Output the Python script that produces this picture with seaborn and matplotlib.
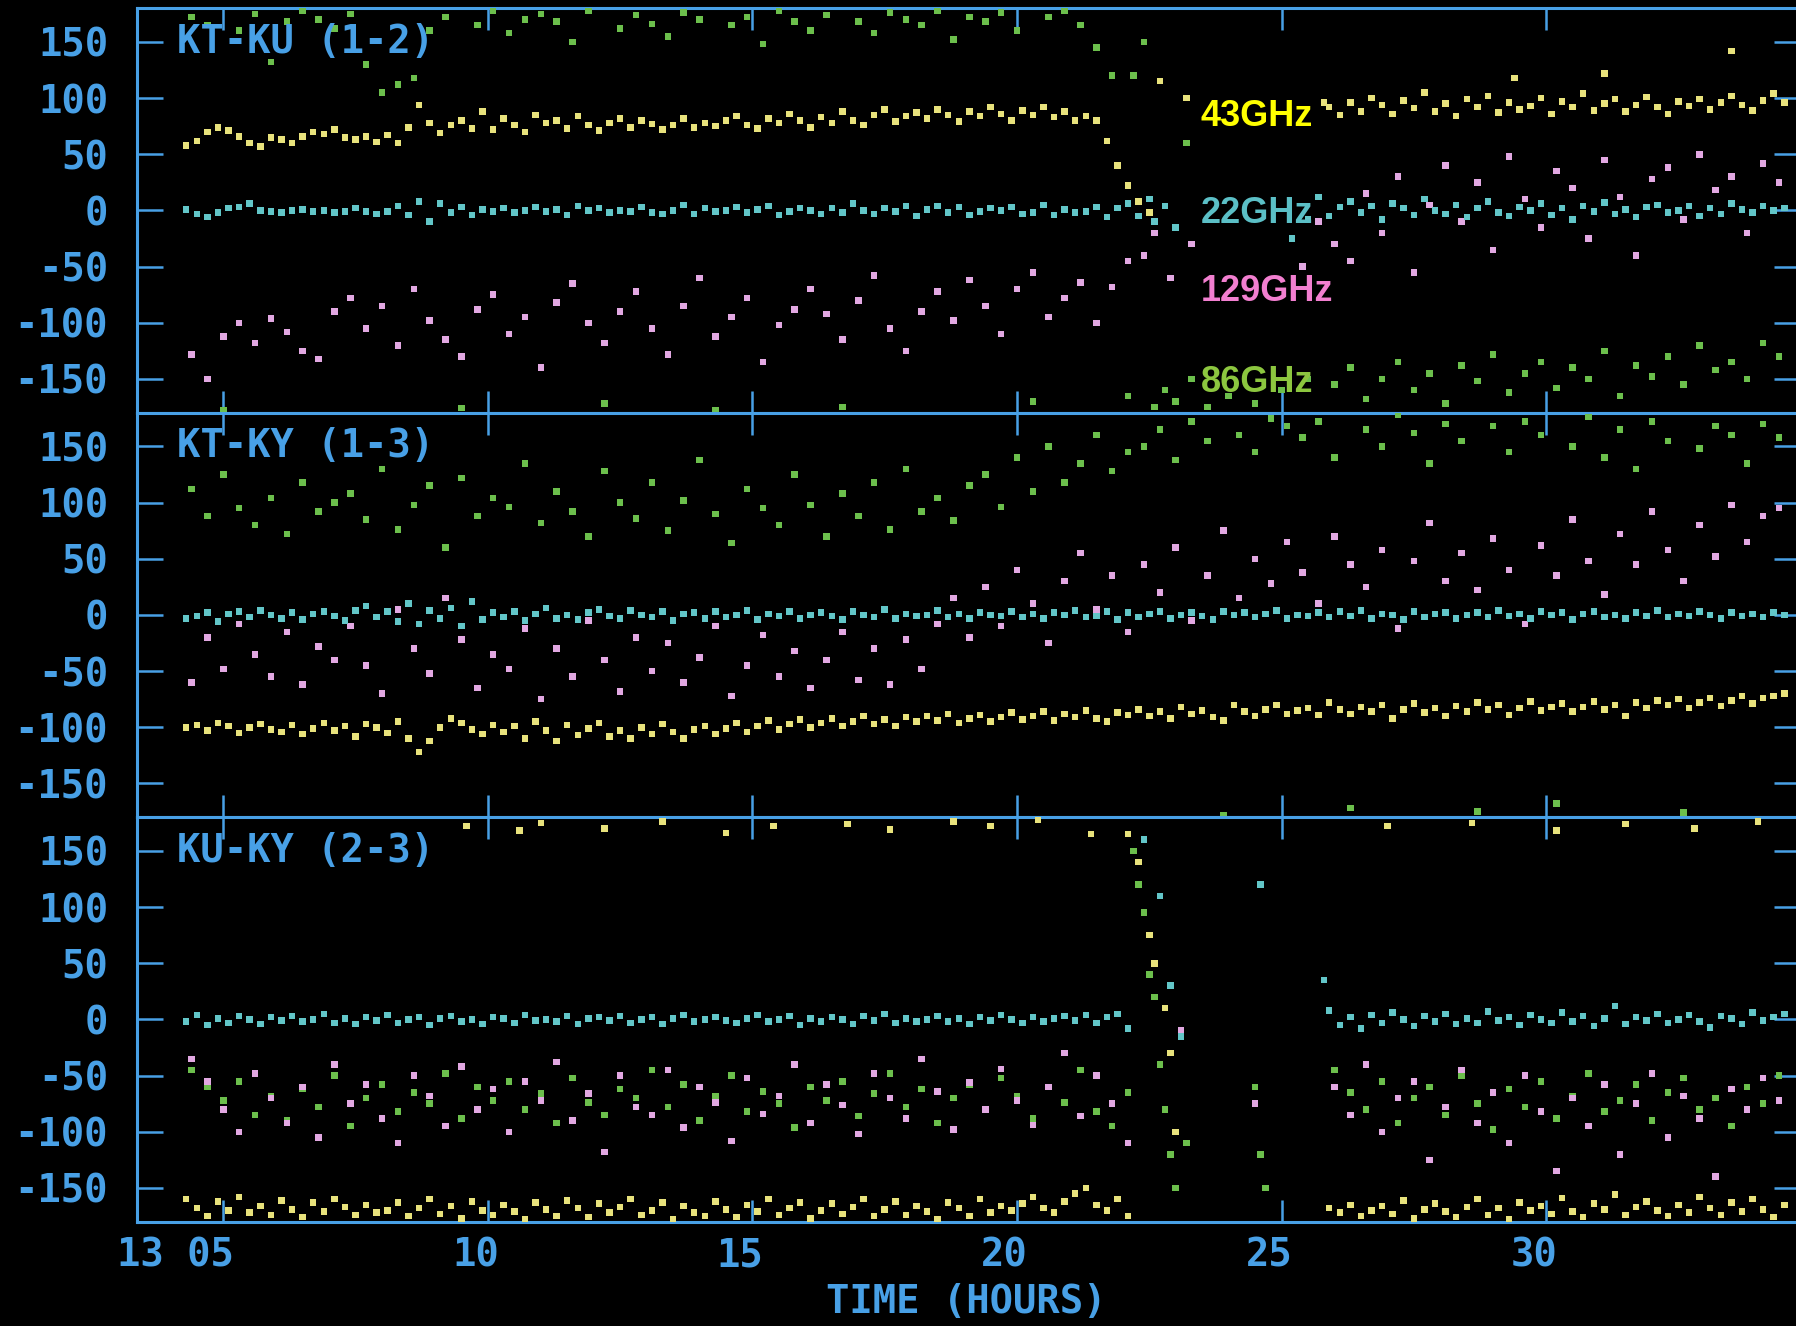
import numpy as np
import pandas as pd
import matplotlib
matplotlib.use("Agg")
import matplotlib.pyplot as plt
import matplotlib.transforms as mtransforms
import seaborn as sns

# ---------------- observation times (hours) ----------------
T_A2 = [4.3, 4.5, 4.7, 4.9, 5.1, 5.3, 5.5, 5.7, 5.9, 6.1,
        6.3, 6.5, 6.7, 6.9, 7.1, 7.3, 7.5, 7.7, 7.9, 8.1,
        8.3, 8.5, 8.7, 8.9, 9.1, 9.3, 9.5, 9.7, 9.9, 10.1,
        10.3, 10.5, 10.7, 10.9, 11.1, 11.3, 11.5, 11.7, 11.9, 12.1,
        12.3, 12.5, 12.7, 12.9, 13.1, 13.3, 13.5, 13.7, 13.9, 14.1,
        14.3, 14.5, 14.7, 14.9, 15.1, 15.3, 15.5, 15.7, 15.9, 16.1,
        16.3, 16.5, 16.7, 16.9, 17.1, 17.3, 17.5, 17.7, 17.9, 18.1,
        18.3, 18.5, 18.7, 18.9, 19.1, 19.3, 19.5, 19.7, 19.9, 20.1,
        20.3, 20.5, 20.7, 20.9, 21.1, 21.3, 21.5, 21.7, 21.9, 22.1]
T_M2 = [22.3, 22.5, 22.7, 22.9, 23.1, 23.3, 23.5, 23.7, 23.9, 24.1,
        24.3, 24.5, 24.7, 24.9, 25.1, 25.3, 25.5, 25.7]
T_B2 = [25.9, 26.1, 26.3, 26.5, 26.7, 26.9, 27.1, 27.3, 27.5, 27.7,
        27.9, 28.1, 28.3, 28.5, 28.7, 28.9, 29.1, 29.3, 29.5, 29.7,
        29.9, 30.1, 30.3, 30.5, 30.7, 30.9, 31.1, 31.3, 31.5, 31.7,
        31.9, 32.1, 32.3, 32.5, 32.7, 32.9, 33.1, 33.3, 33.5, 33.7,
        33.9, 34.1, 34.3, 34.5]
T_A3 = [4.4, 4.7, 5.0, 5.3, 5.6, 5.9, 6.2, 6.5, 6.8, 7.1,
        7.4, 7.7, 8.0, 8.3, 8.6, 8.9, 9.2, 9.5, 9.8, 10.1,
        10.4, 10.7, 11.0, 11.3, 11.6, 11.9, 12.2, 12.5, 12.8, 13.1,
        13.4, 13.7, 14.0, 14.3, 14.6, 14.9, 15.2, 15.5, 15.8, 16.1,
        16.4, 16.7, 17.0, 17.3, 17.6, 17.9, 18.2, 18.5, 18.8, 19.1,
        19.4, 19.7, 20.0, 20.3, 20.6, 20.9, 21.2, 21.5, 21.8, 22.1]
T_M3 = [22.4, 22.7, 23.0, 23.3, 23.6, 23.9, 24.2, 24.5, 24.8, 25.1]
T_B3 = [25.4, 25.7, 26.0, 26.3, 26.6, 26.9, 27.2, 27.5, 27.8, 28.1,
        28.4, 28.7, 29.0, 29.3, 29.6, 29.9, 30.2, 30.5, 30.8, 31.1,
        31.4, 31.7, 32.0, 32.3, 32.6, 32.9, 33.2, 33.5, 33.8, 34.1,
        34.4]

# ---------------- KT-KU (1-2) phases (deg) ----------------
p1_22_a = [1, -3, -6, -2, 2, 3, 6, 0, -1, -2,
           0, 1, -1, 0, -2, -1, 2, -1, -3, -1,
           4, -4, 8, -10, 6, -2, 3, -4, 1, -1,
           2, -2, 0, 3, -1, 1, -4, 4, 0, 2,
           -2, 0, -1, 3, -2, -3, 0, 5, -3, 2,
           -1, 0, 3, -2, 1, 4, -4, -1, 2, 0,
           -3, 2, -2, 6, 0, -3, 2, -1, 4, -5,
           1, 4, -2, 3, -4, -1, 2, 0, 3, -3,
           -2, 5, -4, 1, -2, -1, 3, -6, 2, 6]
p1_22_b = [-5, 3, 8, -2, 4, -8, 6, 2, -4, 10,
           0, -3, 5, -6, 2, 8, -2, -5, 3, 0,
           6, -4, 2, -8, 4, -1, 7, -3, 1, -6,
           3, 5, -2, 0, 4, -5, 2, -3, 6, 1,
           -2, 4, 0, 2]
p1_22_xt = [22.3, 22.5, 22.6, 22.8, 23.0, 25.2, 25.5, 25.7]
p1_22_xv = [-5, 10, -10, 4, -15, -25, -8, 12]

p1_43_a = [58, 62, 70, 74, 71, 66, 60, 57, 65, 63,
           60, 66, 70, 68, 72, 65, 63, 66, 61, 67,
           60, 74, 94, 78, 69, 76, 80, 73, 88, 72,
           82, 76, 70, 85, 78, 80, 73, 84, 76, 71,
           78, 82, 74, 80, 77, 72, 76, 82, 74, 78,
           75, 80, 84, 76, 73, 82, 78, 86, 80, 74,
           83, 78, 88, 80, 76, 85, 90, 79, 84, 87,
           82, 90, 85, 79, 88, 84, 92, 86, 80, 89,
           85, 92, 83, 88, 80, 84, 80, 62, 40, 22]
p1_43_b = [92, 85, 96, 88, 100, 94, 86, 98, 91, 105,
           88, 95, 84, 99, 92, 102, 87, 96, 90, 93,
           100, 86, 97, 92, 104, 89, 95, 99, 88, 94,
           101, 92, 86, 97, 93, 99, 90, 96, 102, 94,
           89, 98, 104, 96]
p1_43_xt = [22.3, 22.5, 22.7, 23.2, 25.8, 29.4, 31.1, 33.5]
p1_43_xv = [8, -2, 115, 100, 96, 118, 122, 142]

p1_129_a = [-128, -150, -112, -100, -118, -96, -108, -125, -132, -90,
            -78, -105, -85, -120, -70, -98, -115, -130, -88, -75,
            -110, -95, -140, -82, -65, -100, -118, -90, -72, -105,
            -128, -85, -60, -112, -95, -78, -135, -102, -88, -70,
            -92, -115, -80, -58, -105, -125, -90, -72, -98, -62,
            -85, -110, -70, -55, -95, -78, -64, -100, -68, -45]
p1_129_b = [-30, -45, 15, -20, 30, -55, 5, 40, -10, 25,
            -35, 48, 10, -15, 35, 20, -25, 45, 12, -40,
            28, 38, -8, 50, 18, 30, -20, 42, 25]
p1_129_xt = [22.4, 22.6, 22.9, 23.3, 25.4, 25.7]
p1_129_xv = [-40, -20, -60, -30, -50, -10]

p1_86_a = [172, 165, -178, 160, 175, 132, 168, 178, 170, 162,
           175, 130, 105, 112, 118, 160, 172, -176, 165, 178,
           158, 170, 175, 168, 150, 178, -172, 162, 174, 166,
           155, 176, 170, -178, 165, 172, 148, 178, 168, 160,
           174, -175, 168, 158, 176, 170, 165, 178, 152, 172,
           168, 176, 160, -170, 172, 178, 165, 145, 120, -165]
p1_86_b = [-155, -140, -168, -150, -135, -160, -145, -172, -138, -152,
           -128, -162, -145, -135, -158, -140, -150, -125, -165, -138,
           -148, -130, -155, -120, -142, -135, -150, -118, -130]
p1_86_xt = [22.2, 22.4, 22.6, 22.8, 23.0, 23.2, 23.3, 23.6, 24.0, 24.5, 25.0, 25.5]
p1_86_xv = [120, 150, -175, -160, -170, 60, -150, -175, -165, -172, -160, -150]

# ---------------- KT-KY (1-3) phases (deg) ----------------
p2_22 = [-3, -1, 2, -6, 1, 3, -2, 4, 0, -3,
         2, -4, 1, 3, -1, -5, 4, 8, -2, 3,
         -6, 10, -8, 4, -3, 6, -10, 12, -4, 2,
         -2, 3, -5, 1, 6, -3, 0, -4, 2, 5,
         -1, -3, 4, 0, -2, 3, -5, 1, 2, -3,
         3, -2, 0, 4, -4, 1, -1, 3, -3, 0,
         2, -1, -4, 3, 0, -2, 5, -3, 1, -1,
         0, 4, -2, 1, -3, 2, 0, -1, 3, -2,
         1, -3, 2, 0, 4, -2, -1, 3, -4, 2,
         -2, 1, 3, -3, 0, 2, -1, -4, 3, 0,
         2, -2, 1, 4, -3, 0, -1, 2, -2, 3,
         -1, 4, -3, 1, 0, -4, 3, -2, 1, 2,
         -3, 0, 2, -2, 4, -1, 1, -3, 3, 0,
         2, -4, 1, 3, -2, 0, -3, 2, -1, 4,
         -2, 1, -1, 3, 0, -3, 2, -1, 1, -2,
         2, 0]
p2_43 = [-100, -98, -103, -96, -99, -105, -100, -97, -102, -104,
         -98, -106, -101, -96, -103, -99, -108, -97, -100, -105,
         -95, -110, -122, -112, -100, -92, -96, -102, -106, -98,
         -104, -99, -110, -95, -103, -112, -98, -107, -101, -96,
         -108, -103, -110, -100, -106, -97, -104, -110, -102, -99,
         -106, -101, -96, -104, -99, -94, -102, -97, -93, -100,
         -96, -92, -99, -95, -90, -97, -93, -99, -91, -95,
         -90, -94, -88, -96, -92, -89, -95, -91, -87, -93,
         -90, -86, -94, -88, -91, -85, -92, -95, -87, -89,
         -84, -90, -86, -92, -82, -88, -85, -91, -94, -80,
         -86, -90, -84, -80, -88, -85, -83, -89, -78, -84,
         -88, -82, -86, -80, -92, -84, -79, -87, -83, -90,
         -81, -86, -78, -84, -80, -89, -83, -77, -85, -82,
         -79, -86, -82, -77, -84, -80, -90, -78, -83, -76,
         -80, -75, -83, -78, -74, -81, -76, -72, -79, -74,
         -72, -70]
p2_86 = [112, 88, 125, 95, 80, 104, 72, 118, 92, 100,
         108, 85, 130, 76, 98, 115, 60, 122, 88, 104,
         96, 135, 82, 110, 92, 70, 128, 100, 86, 118,
         75, 102, 138, 90, 64, 112, 95, 80, 125, 98,
         70, 108, 88, 118, 76, 130, 92, 104, 84, 115,
         125, 96, 140, 110, 150, 118, 135, 160, 128, 145,
         150, 165, 138, 172, 155, -178, 160, 145, 175, 168,
         158, 172, 140, -172, 165, 150, 178, 162, 135, 170,
         155, -175, 168, 145, 172, 160, -168, 150, 176, 140,
         165, 130, 172, 155, -176, 148, 168, 160, 135, 170,
         158]
p2_129 = [-60, -20, -48, -8, -35, -55, -15, -62, -28, -40,
          -10, -45, -70, 5, -30, -52, 15, -22, -65, -35,
          -48, -12, -75, -30, -55, -5, -40, -68, -20, -50,
          -25, -60, -38, -10, -72, -45, -18, -55, -32, -65,
          -40, -15, -58, -30, -62, -22, -48, -8, 15, -20,
          25, -10, 40, 10, -25, 30, 55, 5, 35, -15,
          45, 20, 60, -5, 35, 75, 15, 50, 28, 65,
          38, 10, 70, 45, 25, 58, -12, 48, 82, 30,
          55, 22, 68, 40, -8, 62, 35, 85, 48, 18,
          72, 45, 92, 58, 30, 80, 52, 98, 65, 88,
          95]

# ---------------- KU-KY (2-3) phases (deg) ----------------
p3_22_a = [-2, 4, -5, 1, -3, 3, 0, -4, 2, -1,
           3, -2, 0, 5, -3, 1, -4, 2, -1, 4,
           -3, 0, 2, -5, 1, 3, -2, 0, -4, 2,
           1, -3, 4, -1, 0, -2, 3, -4, 1, 2,
           -1, 3, -3, 0, 2, -4, 1, 4, -2, 0,
           2, -1, -3, 1, 4, -2, 0, 3, -5, 1,
           -2, 2, 0, -4, 3, -1, 5, -3, 1, -2,
           0, 3, -2, 1, -4, 2, -1, 4, 0, -3,
           2, -2, 1, 3, -1, 4, -3, 2, 5, -8]
p3_22_b = [8, -5, 2, -8, 4, -3, 6, 0, -6, 3,
           -2, 5, -4, 1, -3, 7, -1, 2, -5, 4,
           0, -3, 6, -2, 3, -6, 1, 12, -4, 2,
           -1, 5, -3, 0, 4, -2, -7, 3, 1, -4,
           6, -1, 2, 5]
p3_22_xt = [22.4, 22.7, 22.9, 23.1, 24.6, 25.8]
p3_22_xv = [160, 110, 30, -15, 120, 35]

p3_43_a = [-160, -168, -175, -162, -170, -158, -172, -166, -174, -161,
           -169, -176, -163, -171, -160, -167, -174, -165, -172, -170,
           -163, -175, -168, -160, -173, -166, -177, -162, -170, -174,
           -165, -171, -178, -163, -169, -175, -161, -168, -176, -164,
           -172, -167, -160, -174, -170, -163, -178, -166, -172, -175,
           -162, -169, -176, -165, -171, -160, -174, -168, -163, -177,
           -170, -164, -173, -167, -160, -175, -169, -162, -174, -166,
           -171, -178, -163, -168, -175, -160, -172, -166, -170, -164,
           -158, -168, -172, -162, -155, -150, -165, -170, -160, -175]
p3_43_b = [-168, -172, -165, -175, -170, -166, -173, -161, -177, -169,
           -164, -171, -176, -167, -160, -174, -168, -178, -163, -170,
           -166, -173, -159, -171, -176, -164, -169, -156, -174, -167,
           -162, -170, -175, -165, -172, -158, -168, -174, -163, -171,
           -160, -169, -176, -165]
p3_43_xt = [9.6, 10.6, 11.0, 12.2, 13.3, 14.5, 15.4, 16.8, 17.6, 18.8, 19.5,
            20.4, 21.4, 22.1, 22.3, 22.5, 22.6, 22.8, 22.9, 23.0,
            27.0, 28.6, 30.2, 31.5, 32.8, 34.0]
p3_43_xv = [172, 168, 175, 170, 176, 166, 172, 174, 169, 176, 172,
            178, 165, 165, 140, 75, 50, 10, -30, -100,
            172, 175, 168, 174, 170, 176]

p3_86_a = [-45, -60, -72, -55, -85, -68, -90, -62, -78, -50,
           -95, -70, -58, -82, -65, -75, -48, -88, -60, -72,
           -55, -80, -66, -92, -52, -74, -85, -62, -70, -45,
           -78, -58, -90, -68, -50, -82, -64, -75, -96, -60,
           -72, -55, -86, -66, -48, -78, -62, -92, -70, -58,
           -80, -52, -68, -88, -60, -74, -45, -82, -95, -65]
p3_86_b = [-45, -65, -80, -55, -92, -70, -60, -85, -50, -75,
           -98, -62, -78, -55, -88, -68, -48, -82, -72, -58,
           -90, -65, -52, -80, -70, -95, -60, -75, -50]
p3_86_xt = [22.2, 22.3, 22.4, 22.5, 22.6, 22.7, 22.8, 22.9, 23.0, 23.2, 24.5, 24.6, 24.7]
p3_86_xv = [150, 120, 95, 40, 20, -40, -80, -120, -150, -110, -60, -120, -150]

p3_129_a = [-35, -55, -80, -100, -48, -70, -92, -60, -105, -40,
            -75, -58, -88, -110, -50, -68, -95, -42, -80, -62,
            -100, -55, -72, -38, -90, -66, -118, -50, -78, -85,
            -45, -96, -60, -74, -108, -52, -84, -68, -40, -92,
            -58, -76, -102, -48, -70, -88, -35, -64, -98, -56,
            -80, -44, -72, -94, -60, -30, -86, -50, -75, -110]
p3_129_b = [-60, -85, -40, -100, -70, -55, -125, -78, -45, -92,
            -65, -110, -50, -82, -135, -70, -95, -58, -120, -75,
            -48, -105, -68, -88, -140, -62, -80, -52, -72]
p3_129_xt = [23.1, 24.5]
p3_129_xv = [-10, -75]

PANEL_TITLES = ["KT-KU (1-2)", "KT-KY (1-3)", "KU-KY (2-3)"]
Y_TICKS = [150, 100, 50, 0, -50, -100, -150]
Y_LABELS = ["150", "100", "50", "0", "-50", "-100", "-150"]
X_TICKS = [5, 10, 15, 20, 25, 30]
X_LABELS = ["13 05", "10", "15", "20", "25", "30"]
BANDS = ["86GHz", "129GHz", "43GHz", "22GHz"]
BAND_LABEL_Y = [84, -3, -72, -153]
BAND_ORDER_LABELS = ["43GHz", "22GHz", "129GHz", "86GHz"]

POINT_COLORS = {"22GHz": "#62c6c8", "43GHz": "#e8e27c",
                "129GHz": "#e2a8e2", "86GHz": "#6cbf4c"}
LABEL_COLORS = {"43GHz": "#ffff00", "22GHz": "#5bbfc6",
                "129GHz": "#f27fd0", "86GHz": "#8cc63f"}
BLUE = "#48a0e6"
MONO = "DejaVu Sans Mono"
FS = 28


def frame(pieces):
    parts = [pd.DataFrame({"time": list(t), "phase": list(v), "band": b})
             for b, t, v in pieces]
    return pd.concat(parts, ignore_index=True)


df1 = frame([
    ("86GHz", T_A3 + T_B3[2:] + p1_86_xt, p1_86_a + p1_86_b + p1_86_xv),
    ("129GHz", T_A3 + T_B3[2:] + p1_129_xt, p1_129_a + p1_129_b + p1_129_xv),
    ("43GHz", T_A2 + T_B2 + p1_43_xt, p1_43_a + p1_43_b + p1_43_xv),
    ("22GHz", T_A2 + T_B2 + p1_22_xt, p1_22_a + p1_22_b + p1_22_xv),
])
df2 = frame([
    ("86GHz", T_A3 + T_M3 + T_B3, p2_86),
    ("129GHz", T_A3 + T_M3 + T_B3, p2_129),
    ("43GHz", T_A2 + T_M2 + T_B2, p2_43),
    ("22GHz", T_A2 + T_M2 + T_B2, p2_22),
])
df3 = frame([
    ("86GHz", T_A3 + T_B3[2:] + p3_86_xt, p3_86_a + p3_86_b + p3_86_xv),
    ("129GHz", T_A3 + T_B3[2:] + p3_129_xt, p3_129_a + p3_129_b + p3_129_xv),
    ("43GHz", T_A2 + T_B2 + p3_43_xt, p3_43_a + p3_43_b + p3_43_xv),
    ("22GHz", T_A2 + T_B2 + p3_22_xt, p3_22_a + p3_22_b + p3_22_xv),
])

plt.rcParams["font.family"] = [MONO]
plt.rcParams["font.weight"] = "bold"
plt.rcParams["axes.unicode_minus"] = False

W, H = 1796, 1326
fig = plt.figure(figsize=(W / 100, H / 100), dpi=100, facecolor="black")
left = 137.4 / W
right = 1799.6 / W
bottom = 1 - 1221.7 / H
ph = 404.5 / H

axes = []
for i, df in enumerate([df1, df2, df3]):
    ax = fig.add_axes([left, bottom + (2 - i) * ph, right - left, ph])
    ax.set_facecolor("black")
    sns.scatterplot(data=df, x="time", y="phase", hue="band", hue_order=BANDS,
                    palette=POINT_COLORS, marker="s", s=22, linewidth=0,
                    legend=False, ax=ax, zorder=3)
    ax.set_xlim(3.377, 34.79)
    ax.set_ylim(-180, 180)
    ax.set_xlabel("")
    ax.set_ylabel("")
    for sp in ax.spines.values():
        sp.set_color(BLUE)
        sp.set_linewidth(2.2)
    ax.set_yticks(Y_TICKS)
    ax.set_yticklabels(Y_LABELS, fontweight="bold")
    ax.tick_params(axis="y", direction="in", length=19, width=1.8, color=BLUE,
                   left=True, right=True, labelleft=True, labelright=False,
                   pad=21, labelsize=FS, labelcolor=BLUE)
    ax.set_xticks(X_TICKS)
    ax.tick_params(axis="x", direction="in", length=16, width=1.8, color=BLUE,
                   top=True, bottom=True, labelbottom=(i == 2), labeltop=False,
                   pad=11, labelsize=FS, labelcolor=BLUE)
    if i == 2:
        ax.set_xticklabels(X_LABELS, ha="right", fontweight="bold")
        off = mtransforms.ScaledTranslation(11 / 100, 0, fig.dpi_scale_trans)
        for lab in ax.get_xticklabels():
            lab.set_transform(lab.get_transform() + off)
    else:
        ax.set_xticklabels([])
    ax.text(0.024, 0.9167, PANEL_TITLES[i], transform=ax.transAxes,
            ha="left", va="center", color=BLUE, fontsize=FS,
            family=MONO, fontweight="bold", zorder=5)
    axes.append(ax)

for name, yv in zip(BAND_ORDER_LABELS, BAND_LABEL_Y):
    axes[0].text(23.47, yv, name, ha="left", va="center",
                 color=LABEL_COLORS[name], fontsize=26, fontweight="bold",
                 family="Liberation Sans", zorder=6)

fig.text(966 / W, 1 - 1302 / H, "TIME (HOURS)", ha="center", va="center",
         color=BLUE, fontsize=FS, family=MONO, fontweight="bold")

fig.savefig("out.png", dpi=100, facecolor="black")
